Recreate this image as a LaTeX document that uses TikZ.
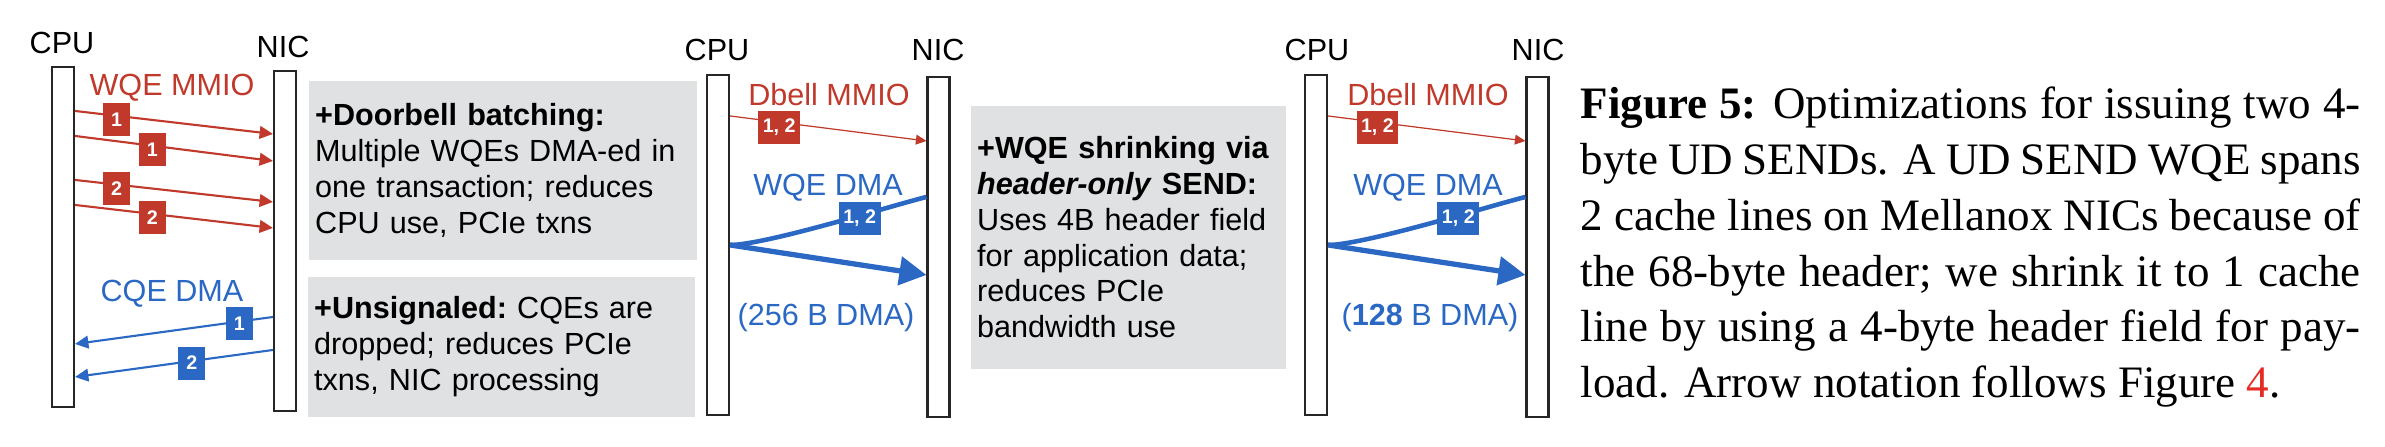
\documentclass[tikz,border=0pt]{standalone}
\usepackage{fontspec}
\setmainfont{Liberation Serif}
\setsansfont{Liberation Sans}
\usetikzlibrary{arrows.meta}
\usetikzlibrary{positioning}
\definecolor{mmiored}{RGB}{192,57,43}
\definecolor{dmablue}{RGB}{42,104,196}
\definecolor{notegray}{RGB}{224,225,227}
\definecolor{linkred}{RGB}{228,44,36}
\tikzset{
    bar/.style = {rectangle, draw=black!85, line width=0.6pt, fill=white, minimum width=0.22cm, minimum height=3.40cm, inner sep=0pt},
    who/.style = {anchor=base, inner sep=0pt, font=\sffamily\fontsize{8.7}{10.2}\selectfont},
    badger/.style = {rectangle, fill=mmiored, text=white, inner xsep=0.045cm, inner ysep=0pt, minimum width=0.27cm, minimum height=0.33cm, font=\sffamily\bfseries\fontsize{5.6}{6}\selectfont},
    badgeb/.style = {badger, fill=dmablue},
    note/.style = {rectangle, fill=notegray, anchor=north west, inner xsep=0.065cm, inner ysep=0pt, align=left, font=\sffamily\fontsize{8.7}{10.2}\selectfont\frenchspacing},
    edger/.style = {-{Triangle[length=3.8pt,width=3.6pt]}, line width=0.6pt, mmiored},
    edgeb/.style = {-{Triangle[length=3.8pt,width=3.6pt]}, line width=0.6pt, dmablue},
    edgert/.style = {-{Triangle[length=3pt,width=2.8pt]}, line width=0.35pt, mmiored},
    edgebf/.style = {-{Triangle[length=7.7pt,width=8pt]}, line width=1.5pt, dmablue},
    edgebu/.style = {line width=1.3pt, dmablue}
}

\begin{document}
\begin{tikzpicture}
  \useasboundingbox (0,0) rectangle (23.85,-4.46);

  % doorbell batching, unsignaled
  \node[bar] (cpuA) at (0.63,-2.37) {};
  \node[bar] (nicA) at (2.85,-2.41) {};
  \node[who] (cpuAl) at (0.62,-0.53) {CPU};
  \node[who] (nicAl) at (2.83,-0.57) {NIC};
  \node[who, text=mmiored] (wqeA) at (1.72,-0.95) {WQE MMIO};
  \node[who, text=dmablue] (cqeA) at (1.72,-3.01) {CQE DMA};
  \draw[edger] ([yshift=-0.45cm]cpuA.north east) -- node[badger, pos=0.21, yshift=-0.04cm] (ra1) {1} ([yshift=-0.64cm]nicA.north west);
  \draw[edger] ([yshift=-0.70cm]cpuA.north east) -- node[badger, pos=0.39, yshift=-0.04cm] (ra2) {1} ([yshift=-0.91cm]nicA.north west);
  \draw[edger] ([yshift=-1.14cm]cpuA.north east) -- node[badger, pos=0.21, yshift=-0.04cm] (ra3) {2} ([yshift=-1.32cm]nicA.north west);
  \draw[edger] ([yshift=-1.39cm]cpuA.north east) -- node[badger, pos=0.39, yshift=-0.04cm] (ra4) {2} ([yshift=-1.58cm]nicA.north west);
  \draw[edgeb] ([yshift=-2.47cm]nicA.north west) -- node[badgeb, pos=0.17, yshift=-0.02cm] (ba1) {1} ([yshift=-2.78cm]cpuA.north east);
  \draw[edgeb] ([yshift=-2.80cm]nicA.north west) -- node[badgeb, pos=0.41, yshift=-0.02cm] (ba2) {2} ([yshift=-3.11cm]cpuA.north east);

  \node[note, minimum width=3.88cm, minimum height=1.79cm, text width=3.75cm] (doorbell) at (3.08,-0.80)
    {\textbf{+Doorbell batching:}\\Multiple WQEs DMA-ed in\\one transaction; reduces\\CPU use, PCIe txns};
  \node[note, minimum width=3.87cm, minimum height=1.40cm, text width=3.74cm] (unsig) at (3.07,-2.76)
    {\textbf{+Unsignaled:} CQEs are\\dropped; reduces PCIe\\txns, NIC processing};

  % doorbell MMIO, 256 B DMA
  \node[bar] (cpuB) at (7.18,-2.45) {};
  \node[bar] (nicB) at (9.385,-2.47) {};
  \node[who] (cpuBl) at (7.17,-0.60) {CPU};
  \node[who] (nicBl) at (9.38,-0.60) {NIC};
  \node[who, text=mmiored] (dbB) at (8.29,-1.05) {Dbell MMIO};
  \node[who, text=dmablue] (wqeB) at (8.28,-1.95) {WQE DMA};
  \node[who, text=dmablue] (szB) at (8.26,-3.25) {(256 B DMA)};
  \draw[edgert] ([yshift=-0.42cm]cpuB.north east) -- node[badger, pos=0.25, yshift=-0.05cm] (rb) {1, 2} ([yshift=-0.65cm]nicB.north west);
  \draw[edgebu] ([yshift=-1.21cm]nicB.north west) to[out=194, in=0, looseness=0.45] node[badgeb, pos=0.37, yshift=-0.03cm] (bb) {1, 2} ([yshift=-1.71cm]cpuB.north east);
  \draw[edgebf] ([yshift=-1.71cm]cpuB.north east) -- ([yshift=-1.99cm]nicB.north west);

  \node[note, minimum width=3.15cm, minimum height=2.63cm, text width=3.02cm] (shrink) at (9.70,-1.05)
    {\textbf{+WQE shrinking via}\\\textbf{\textit{header-only} SEND:}\\Uses 4B header field\\for application data;\\reduces PCIe\\bandwidth use};

  % header-only, 128 B DMA
  \node[bar] (cpuC) at (13.16,-2.45) {};
  \node[bar] (nicC) at (15.375,-2.47) {};
  \node[who] (cpuCl) at (13.17,-0.60) {CPU};
  \node[who] (nicCl) at (15.38,-0.60) {NIC};
  \node[who, text=mmiored] (dbC) at (14.28,-1.05) {Dbell MMIO};
  \node[who, text=dmablue] (wqeC) at (14.28,-1.95) {WQE DMA};
  \node[who, text=dmablue] (szC) at (14.30,-3.25) {(\textbf{128} B DMA)};
  \draw[edgert] ([yshift=-0.42cm]cpuC.north east) -- node[badger, pos=0.25, yshift=-0.05cm] (rc) {1, 2} ([yshift=-0.65cm]nicC.north west);
  \draw[edgebu] ([yshift=-1.21cm]nicC.north west) to[out=194, in=0, looseness=0.45] node[badgeb, pos=0.37, yshift=-0.03cm] (bc) {1, 2} ([yshift=-1.71cm]cpuC.north east);
  \draw[edgebf] ([yshift=-1.71cm]cpuC.north east) -- ([yshift=-1.99cm]nicC.north west);

  \node[anchor=north west, inner sep=0pt, text width=7.8cm, align=justify, font=\fontsize{12.8}{15.9}\selectfont] (caption) at (15.80,-0.86)
    {\textbf{Figure 5:} Optimizations for issuing two 4-\linebreak byte UD SENDs. A UD SEND WQE spans\linebreak 2 cache lines on Mellanox NICs because of\linebreak the 68-byte header; we shrink it to 1 cache\linebreak line by using a 4-byte header field for pay-\linebreak load. Arrow notation follows Figure~\textcolor{linkred}{4}.};
\end{tikzpicture}
\end{document}
